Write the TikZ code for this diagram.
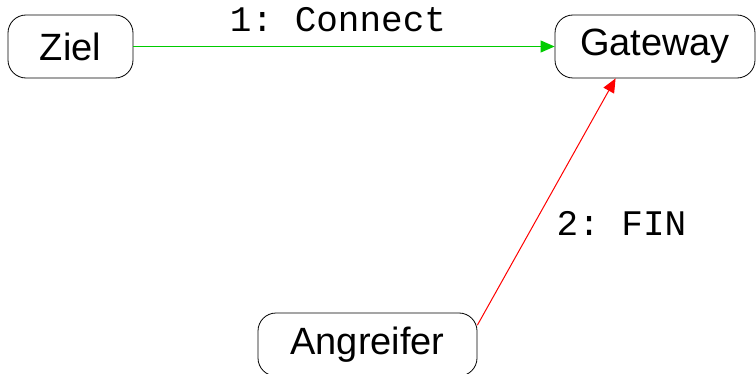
\documentclass[tikz,border=0pt]{standalone}
\usepackage{fontspec}
\setmainfont{Liberation Sans}
\setmonofont{Liberation Mono}
\usetikzlibrary{arrows.meta}
\tikzset{
  box/.style={draw, thick, rounded corners=18pt, minimum height=63pt, inner sep=0pt, font=\fontsize{38}{40}\selectfont},
  msg/.style={font=\ttfamily\fontsize{36}{38}\selectfont}
}
\begin{document}
\begin{tikzpicture}[x=1pt, y=1pt, >={Triangle[length=14pt,width=12pt]}]
  \useasboundingbox (0,0) rectangle (756,373);
  % Knoten
  \node[box, minimum width=125pt] (ziel) at (70.5,326.5) {Ziel};
  \node[box, minimum width=200pt] (gateway) at (655,326.5) {Gateway};
  \node[box, minimum width=219pt] (angreifer) at (367.5,28.5) {Angreifer};
  % Nachrichten
  \draw[->, green!80!black, line width=1pt] (ziel) -- (gateway);
  \node[msg] (m1) at (338,353) {1: Connect};
  \draw[->, red, line width=1pt] (angreifer.10) -- (gateway.219.7);
  \node[msg] (m2) at (621.5,150) {2: FIN};
\end{tikzpicture}
\end{document}
